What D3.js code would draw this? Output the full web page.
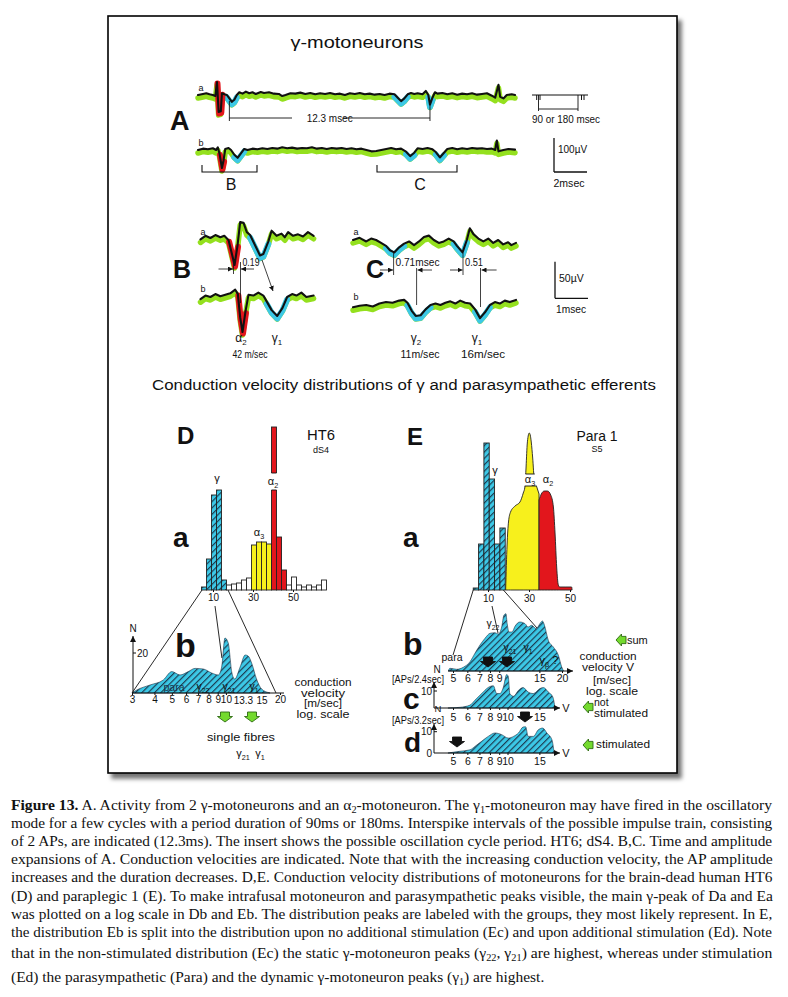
<!DOCTYPE html>
<html><head><meta charset="utf-8">
<script src="https://cdn.jsdelivr.net/npm/d3@7"></script>
<style>body{margin:0;background:#fff}svg{display:block}</style>
</head><body><svg id="c" width="788" height="997"></svg>
<script>
// ---------------- DATA ----------------
// Panel A traces (time in msec, amplitude in µV)
const aaT=[0,0.3,0.5,0.7,0.9,1.05,1.15,1.25,1.38,1.45,1.6,1.75,1.9,2.05,2.2,2.35,2.5,2.7,2.9,3.1,3.3,3.5,3.8,4.0,4.3,4.6,4.9,5.1,5.3,5.6,5.9,6.2,6.5,6.8,7.1,7.4,7.7,8.0,8.3,8.6,8.9,9.2,9.5,9.8,10.1,10.4,10.7,11.0,11.3,11.6,11.9,12.1,12.3,12.5,12.7,12.9,13.1,13.3,13.6,13.8,13.95,14.05,14.2,14.35,14.5,14.8,15.1,15.4,15.7,16.0,16.3,16.6,16.9,17.2,17.5,17.8,18.0,18.2,18.3,18.5,18.7,19.0,19.2];
const aaV=[0,3,5,2,0,-3,38,-50,-48,5,2,0,-10,-20,-14,0,8,4,10,5,8,3,9,6,8,4,3,-3,0,5,4,7,3,6,2,5,3,6,2,4,0,5,3,6,2,4,1,3,0,4,2,-8,-18,-10,2,6,3,5,2,12,0,-28,-8,8,4,6,2,5,1,4,2,5,1,3,5,-2,-8,30,-5,-10,0,2,0];
const aaCyan=[[1.75,2.4],[11.9,12.7],[13.9,14.3]];
const aaRed=[[1.15,1.45]];
const abT=[0,0.3,0.6,0.9,1.1,1.2,1.3,1.45,1.55,1.65,1.85,2.0,2.2,2.4,2.6,2.8,3.0,3.3,3.6,3.9,4.2,4.5,4.8,5.1,5.4,5.7,6.0,6.3,6.6,6.9,7.2,7.5,7.8,8.1,8.4,8.7,9.0,9.3,9.6,9.9,10.2,10.5,10.8,11.1,11.4,11.7,12.0,12.3,12.6,12.85,13.1,13.3,13.6,13.9,14.2,14.4,14.65,14.9,15.1,15.4,15.7,16.0,16.3,16.6,16.9,17.2,17.5,17.8,18.0,18.1,18.2,18.5,18.8,19.2];
const abV=[0,4,2,5,0,8,-10,-53,-30,3,6,0,-14,-23,-10,3,0,4,2,5,3,6,4,8,5,7,4,6,5,8,4,6,3,6,4,6,3,5,2,4,0,-4,-3,0,3,6,2,4,-5,-18,-8,5,3,6,2,-6,-22,-8,3,6,2,5,3,6,4,5,3,4,0,28,-4,0,3,1];
const abCyan=[[2.05,2.8],[12.5,13.2],[14.3,15.0]];
const abRed=[[1.3,1.6]];
// Panel B traces
const baT=[0,0.15,0.3,0.45,0.6,0.72,0.85,0.93,1.03,1.12,1.2,1.3,1.4,1.5,1.65,1.8,1.9,2.05,2.15,2.3,2.45,2.55,2.65,2.8,2.95,3.1,3.25,3.42];
const baV=[-2,3,0,4,1,3,-3,-18,-37,-10,22,21,8,4,-10,-24,-22,-5,10,3,6,1,8,3,5,2,8,3];
const baCyan=[[1.5,2.1]], baRed=[[0.85,1.15]];
const bbT=[0,0.15,0.3,0.45,0.6,0.75,0.9,1.05,1.13,1.2,1.27,1.36,1.45,1.6,1.75,1.9,2.0,2.15,2.32,2.48,2.62,2.77,2.9,3.05,3.2,3.42];
const bbV=[-3,2,0,4,1,3,5,10,4,-28,-48,-20,3,2,6,2,-6,-18,-26,-15,0,4,2,6,0,2];
const bbCyan=[[1.95,2.65]], bbRed=[[1.13,1.42]];
// Panel C traces
const caT=[0,0.2,0.4,0.55,0.7,0.85,1.0,1.12,1.25,1.4,1.55,1.7,1.85,2.0,2.15,2.3,2.45,2.6,2.75,2.9,3.05,3.15,3.32,3.45,3.54,3.65,3.8,3.95,4.1,4.25,4.4,4.55,4.7,4.8,4.94];
const caV=[0,3,-2,2,0,-4,-8,-14,-17,-10,-5,-2,-7,-2,4,6,0,-4,-2,2,-2,-8,-17,0,16,8,2,-2,2,-4,0,-6,-3,-7,-4];
const caCyan=[[0.9,1.6],[3.05,3.45]];
const cbT=[0,0.2,0.4,0.6,0.8,1.0,1.2,1.4,1.55,1.65,1.78,1.9,2.05,2.2,2.35,2.5,2.65,2.8,2.95,3.1,3.25,3.4,3.55,3.7,3.85,4.0,4.15,4.3,4.45,4.6,4.75,4.94];
const cbV=[-3,-1,0,-2,2,4,3,6,7,3,-8,-15,-14,-6,0,2,0,3,5,2,6,3,2,-6,-18,-10,0,4,2,6,4,7];
const cbCyan=[[1.6,2.4],[3.6,4.15]];

// Panel D a: histogram (bin start 4.25 m/s, width 2.5 m/s)
const daStart=4.25, daWidth=2.5;
const daCounts=[3,31,95,100,10,5,6,7,10,12,45,48,48,46,163,53,20,5,13,5,3,5,3,5,10];
const daGroup=['g','g','g','g','g','','','','','','a3','a3','a3','a3','a2','a2','a2','','','','','','','',''];
const daTicks=[10,30,50];
// Panel D b: log-scale distribution
const dbV=[3.0,3.19,3.78,4.48,5.0,5.55,6.17,6.73,7.48,8.33,9.07,9.47,9.88,10.3,10.8,11.2,12.0,12.8,13.3,13.9,14.8,15.8,17.6];
const dbN=[0,1.5,4,6.5,10.7,9,10.7,12.3,12,10,9,13,27.5,25,10,7,13,19,18.5,15,7,2,0];
const dbTicks=[3,4,5,6,7,8,9,10,13.3,15,20];
// Panel E a
const eaStart=2.8, eaWidth=2.6;
const eaCounts=[2,46,147,111,46,62];
const eaYellowV=[18.6,19.3,20.0,21.0,23.2,25.6,27.2,28.0,28.5,29.1,29.6,30.1,30.6,31.1,31.8,32.6,33.8,34.9];
const eaYellowN=[0,45,68,78,84,88,97,103,120,145,154,157,155,148,132,110,103,96];
const eaRedV=[34.9,36,37.5,39,40.6,41.9,42.7,43.5,44.3,45,48,50.8,51];
const eaRedN=[90,96,99,99,95,83,57,23,5,3,3,3,0];
const eaTicks=[10,30,50];
// Panel E b, c, d
const ebV=[4.71,4.81,5.24,5.7,6.21,6.61,7.05,7.51,8.01,8.53,8.89,9.29,9.55,9.8,9.96,10.2,10.6,11.0,11.7,12.5,13.0,13.6,14.4,15.1,15.6,16.0,16.8,17.9,19.1,19.9,20.4];
const ebN=[0,2.7,1.7,3.7,9.3,17.7,26,32.7,37.7,38.3,37,44,55.7,57.3,47.3,39,39,44.7,49,47.3,44,45.7,42.3,47.3,50,45.7,30.7,24,15.7,4.3,0];
const ebTicks=[5,6,7,8,9,15,20];
const ecV=[4.69,5.46,6.21,6.61,7.2,7.83,8.35,8.72,9.09,9.48,9.9,10.1,10.3,10.8,11.5,12.2,13.0,13.9,15.1,15.8,16.8,17.8,18.3];
const ecN=[0,0.4,1.7,4.6,8.5,12.1,13.1,8.5,8.5,12.1,19.7,18.5,8.5,6.9,10.4,12.0,9.4,8.5,11.4,12.0,9.4,6.5,0];
const edV=[4.69,5.46,6.21,6.61,7.2,7.83,8.53,9.29,10.1,10.8,11.5,12.2,12.6,13.0,13.9,14.8,15.65,16.5,17.6,18.1];
const edN=[0,0.8,1.5,3.1,5.5,7.8,9.4,8.6,7.0,7.8,9.4,12.2,12.3,7.8,7.8,10.9,11.7,9.4,6.2,0];
const ecTicks=[5,6,7,8,9,10,15];

const captionLines=[
"**Figure 13.** A. Activity from 2 γ-motoneurons and an α_{2}-motoneuron. The γ_{1}-motoneuron may have fired in the oscillatory",
"mode for a few cycles with a period duration of 90ms or 180ms. Interspike intervals of the possible impulse train, consisting",
"of 2 APs, are indicated (12.3ms). The insert shows the possible oscillation cycle period. HT6; dS4. B,C. Time and amplitude",
"expansions of A. Conduction velocities are indicated. Note that with the increasing conduction velocity, the AP amplitude",
"increases and the duration decreases. D,E. Conduction velocity distributions of motoneurons for the brain-dead human HT6",
"(D) and paraplegic 1 (E). To make intrafusal motoneuron and parasympathetic peaks visible, the main γ-peak of Da and Ea",
"was plotted on a log scale in Db and Eb. The distribution peaks are labeled with the groups, they most likely represent. In E,",
"the distribution Eb is split into the distribution upon no additional stimulation (Ec) and upon additional stimulation (Ed). Note",
"that in the non-stimulated distribution (Ec) the static γ-motoneuron peaks (γ_{22}, γ_{21}) are highest, whereas under stimulation",
"(Ed) the parasympathetic (Para) and the dynamic γ-motoneuron peaks (γ_{1}) are highest."];

// ---------------- DRAWING ----------------
const CYAN='#3cc8e6', GREEN='#94e01e', RED='#e2161c', YELLOW='#f7f01c', HATCH='#1a3347', ARRG='#74da2e';
const FONT='Liberation Sans, Arial, sans-serif';
const svg=d3.select('#c');
svg.append('rect').attr('width',788).attr('height',997).attr('fill','#fff');
const defs=svg.append('defs');
const pat=defs.append('pattern').attr('id','hatch').attr('patternUnits','userSpaceOnUse').attr('width',4.5).attr('height',4.5).attr('patternTransform','rotate(45)');
pat.append('rect').attr('width',4.5).attr('height',4.5).attr('fill',CYAN);
pat.append('line').attr('x1',0.6).attr('y1',0).attr('x2',0.6).attr('y2',4.5).attr('stroke',HATCH).attr('stroke-width',1.1);
const flt=defs.append('filter').attr('id','shadow').attr('x','-5%').attr('y','-5%').attr('width','112%').attr('height','112%');
flt.append('feDropShadow').attr('dx',4).attr('dy',5).attr('stdDeviation',2.2).attr('flood-color','#000').attr('flood-opacity',0.55);
function marker(id,s){
  defs.append('marker').attr('id',id).attr('markerUnits','userSpaceOnUse').attr('markerWidth',s).attr('markerHeight',s)
   .attr('refX',s).attr('refY',s/2).attr('orient','auto')
   .append('path').attr('d',`M0,0L${s},${s/2}L0,${s}Z`).attr('fill','#111');
}
marker('ah',6); marker('ah2',5);

svg.append('rect').attr('x',108).attr('y',16).attr('width',569).attr('height',757)
  .attr('fill','#fff').attr('stroke','#000').attr('stroke-width',1.6).attr('filter','url(#shadow)');

function rich(t,str,fs,shf=0.28){
  const parts=str.split(/(\*\*[^*]+\*\*|_\{[^}]*\})/).filter(s=>s.length);
  let down=0; const sh=fs*shf;
  parts.forEach(p=>{
    const ts=t.append('tspan');
    if(p.startsWith('_{')){ts.text(p.slice(2,-1)).attr('font-size',fs*0.66).attr('dy',sh-down);down=sh;}
    else{ if(p.startsWith('**')){ts.attr('font-weight','bold');p=p.slice(2,-2);} ts.text(p).attr('dy',-down);down=0;}
  });
  return t;
}
function txt(x,y,str,fs,opt={}){
  const t=svg.append('text').attr('x',x).attr('y',y).attr('font-family',opt.family||FONT).attr('font-size',fs)
    .attr('text-anchor',opt.anchor||'middle').attr('fill',opt.fill||'#111');
  if(opt.bold)t.attr('font-weight','bold');
  if(opt.len)t.attr('textLength',opt.len).attr('lengthAdjust','spacingAndGlyphs');
  rich(t,str,fs); return t;
}
function seg(x1,y1,x2,y2,w=1,m){
  const l=svg.append('line').attr('x1',x1).attr('y1',y1).attr('x2',x2).attr('y2',y2).attr('stroke','#111').attr('stroke-width',w);
  if(m)l.attr('marker-end',`url(#${m})`); return l;
}
function drawTrace(T,V,cyan,red,xr,base,ky){
  const x=d3.scaleLinear().domain([0,d3.max(T)]).range(xr);
  const y=d3.scaleLinear().domain([0,100]).range([base,base-100*ky]);
  const pts=T.map((d,i)=>[d,V[i]]);
  const line=d3.line().x(d=>x(d[0])).y(d=>y(d[1]));
  const g=svg.append('g').attr('fill','none').attr('stroke-linejoin','round').attr('stroke-linecap','round');
  g.append('path').attr('d',line(pts)).attr('stroke',GREEN).attr('stroke-width',5.5).attr('transform','translate(0,3)');
  const pick=r=>pts.filter(d=>d[0]>=r[0]-1e-9&&d[0]<=r[1]+1e-9);
  cyan.forEach(r=>g.append('path').attr('d',line(pick(r))).attr('stroke',CYAN).attr('stroke-width',6).attr('transform','translate(0,2.5)'));
  red.forEach(r=>g.append('path').attr('d',line(pick(r))).attr('stroke',RED).attr('stroke-width',6).attr('transform','translate(0.5,1.5)'));
  g.append('path').attr('d',line(pts)).attr('stroke','#111').attr('stroke-width',2.1);
  return {x,y,pxPerMs:(xr[1]-xr[0])/d3.max(T),ky};
}
function blockArrow(cx,cy,w,h,rot,fill,stroke){
  const p=`M${-w*0.3},${-h/2}H${w*0.3}V${-h*0.05}H${w/2}L0,${h/2}L${-w/2},${-h*0.05}H${-w*0.3}Z`;
  svg.append('path').attr('d',p).attr('transform',`translate(${cx},${cy}) rotate(${rot})`).attr('fill',fill).attr('stroke',stroke).attr('stroke-width',0.9);
}
function axisB(scale,y,ticks,fs,pad){
  const ax=d3.axisBottom(scale).tickValues(ticks).tickFormat(d=>String(d)).tickSize(2).tickPadding(pad);
  const g=svg.append('g').attr('transform',`translate(0,${y})`).call(ax);
  g.select('.domain').remove();
  g.selectAll('text').attr('font-size',fs).attr('font-family',FONT).attr('fill','#111');
  g.selectAll('line').attr('stroke','#111');
  return g;
}

// ---- Title
txt(357,48,'γ-motoneurons',17,{len:133});

// ---- Panel A
txt(170,130,'A',27,{bold:true,anchor:'start'});
const TA=drawTrace(aaT,aaV,aaCyan,aaRed,[198,515],95,0.34);
const TB=drawTrace(abT,abV,abCyan,abRed,[198,515],150,0.34);
txt(201,91,'a',9); txt(201,146,'b',9);
{const x1=TA.x(1.9),x2=TA.x(14.05);
 seg(x1,101,x1,121,0.9); seg(x2,101,x2,121,0.9);
 seg(x1,118,292,118,0.9); seg(343,118,x2,118,0.9);
 txt((x1+x2)/2,122,'12.3 msec',10,{len:46});}
seg(532,95,588,95,1); seg(536.7,95,536.7,100,1); seg(540,95,540,100,1);
seg(538.5,95,538.5,111,0.9); seg(578,95,578,111,0.9); seg(581.5,95,581.5,100,1); seg(584,95,584,100,1);
seg(539,109,578,109,0.9);
txt(566,123,'90 or 180 msec',10,{len:68});
function bracket(x1,x2,y){svg.append('path').attr('d',`M${x1},${y-7}V${y}H${x2}V${y-7}`).attr('fill','none').attr('stroke','#111').attr('stroke-width',1.1);}
bracket(202,257,172); bracket(377,457,172);
txt(231,190,'B',16); txt(420,190,'C',16);
{const x0=554,y0=172;
 seg(x0,y0,x0,y0-100*TA.ky,1.3); seg(x0,y0,x0+2*TA.pxPerMs,y0,1.3);
 txt(558,153,'100µV',10,{anchor:'start'}); txt(569,187,'2msec',10,{len:31});}

// ---- Panel B
txt(173,278,'B',25,{bold:true,anchor:'start'});
const TBa=drawTrace(baT,baV,baCyan,baRed,[200.5,313.6],238,0.73);
const TBb=drawTrace(bbT,bbV,bbCyan,bbRed,[200.5,313.6],297,0.73);
txt(203,235,'a',9); txt(203,292,'b',9);
seg(233.5,262,233.5,274,0.8); seg(240.5,262,240.5,303,0.8);
seg(218.5,269,233,269,0.8,'ah2'); seg(254,269,241,269,0.8,'ah2');
txt(242.5,266,'0.19',10.5,{len:17,anchor:'start'});
seg(262,260,273,291,0.8,'ah2');
txt(241,342,'α_{2}',12); txt(250,358,'42 m/sec',11,{len:35}); txt(277,342,'γ_{1}',12);

// ---- Panel C
txt(366,278,'C',25,{bold:true,anchor:'start'});
const TCa=drawTrace(caT,caV,caCyan,[],[353,516],240,0.73);
const TCb=drawTrace(cbT,cbV,cbCyan,[],[353,516],305,0.73);
txt(356,235,'a',9); txt(356,300,'b',9);
seg(393.6,253,393.6,275,0.8); seg(416.6,268,416.6,305,0.8);
seg(463,253,463,275,0.8); seg(480.5,268,480.5,307,0.8);
seg(380,270,393,270,0.8,'ah2'); seg(432,270,417.5,270,0.8,'ah2');
seg(450,270,462.5,270,0.8,'ah2'); seg(496.6,270,481.5,270,0.8,'ah2');
txt(395.5,266,'0.71msec',10.5,{len:44,anchor:'start'}); txt(465,266,'0.51',10.5,{len:18,anchor:'start'});
txt(416,342,'γ_{2}',12); txt(420,358,'11m/sec',11,{len:39});
txt(477,342,'γ_{1}',12); txt(483,358,'16m/sec',11,{len:44});
{const x0=555,y0=298.3;
 seg(x0,y0,x0,y0-50*TCa.ky,1.3); seg(x0,y0,x0+TCa.pxPerMs,y0,1.3);
 txt(559,282,'50µV',10.5,{anchor:'start'}); txt(571,313,'1msec',10,{len:30});}

txt(404,390,'Conduction velocity distributions of γ and parasympathetic efferents',14,{len:504});

// ---- Panel D
txt(177,444,'D',24,{bold:true,anchor:'start'});
txt(321,440,'HT6',14,{len:28}); txt(321,453,'dS4',9);
txt(173,547,'a',28,{bold:true,anchor:'start'});
const xDa=d3.scaleLinear().domain([0,70]).range([193,333]);
const yDa=d3.scaleLinear().domain([0,170]).range([590,420]);
const fillOf={g:'url(#hatch)',a3:YELLOW,a2:RED,'':'#fff'};
svg.append('g').selectAll('rect').data(daCounts).join('rect')
  .attr('x',(d,i)=>xDa(daStart+i*daWidth)).attr('width',xDa(daWidth)-xDa(0))
  .attr('y',d=>yDa(d)).attr('height',d=>yDa(0)-yDa(d))
  .attr('fill',(d,i)=>fillOf[daGroup[i]]).attr('stroke','#222').attr('stroke-width',0.9);
{const i=daGroup.indexOf('a2'); const x1=xDa(daStart+i*daWidth), x2=xDa(daStart+(i+1)*daWidth);
 svg.append('rect').attr('x',x1-1).attr('y',yDa(117)).attr('width',x2-x1+2).attr('height',yDa(100)-yDa(117)).attr('fill','#fff');
 seg(x1,yDa(117),x2,yDa(117),0.9); seg(x1,yDa(100),x2,yDa(100),0.9);}
txt(217,482,'γ',11); txt(273,485,'α_{2}',11); txt(259,536,'α_{3}',11);
axisB(xDa,590,daTicks,10,2);
// Db
const xDb=d3.scaleLog().domain([3,20]).range([132,280]);
const yDb=d3.scaleLinear().domain([0,30]).range([693,633]);
seg(202,590,xDb(3),693,0.9); seg(228,590,xDb(19),693,0.9); seg(215,606,xDb(9.5),658,0.9);
svg.append('path').datum(dbV.map((v,i)=>[v,dbN[i]]))
  .attr('d',d3.area().x(d=>xDb(d[0])).y0(yDb(0)).y1(d=>yDb(d[1])).curve(d3.curveMonotoneX))
  .attr('fill','url(#hatch)').attr('stroke',HATCH).attr('stroke-width',0.6);
seg(xDb(3),693,xDb(20)+4,693,1);
seg(133,693,133,636,1,'ah');
seg(133,yDb(20),136,yDb(20),1); txt(137,657,'20',10,{anchor:'start'}); txt(133,632,'N',10);
axisB(xDb,693,dbTicks.filter(d=>d!==13.3&&d!==15),10,1);
txt(xDb(13.3)+5,704,'13.3',10,{anchor:'end'}); txt(xDb(15)-1,704,'15',10,{anchor:'start'});
txt(175,657,'b',34,{bold:true,anchor:'start'});
txt(174,691,'para',10.5,{fill:HATCH}); txt(203,690,'γ_{22}',10.5); txt(229,690,'γ_{21}',10.5); txt(254,690,'γ_{1}',10.5);
txt(323,686,'conduction',10.5,{len:57}); txt(323,697,'velocity',10.5,{len:44}); txt(323,707,'[m/sec]',10,{len:38}); txt(323,718,'log. scale',10.5,{len:53});
blockArrow(225,717,15,10,0,ARRG,'#2e6a12'); blockArrow(252,717,15,10,0,ARRG,'#2e6a12');
txt(241,741,'single fibres',11,{len:68}); txt(243,757,'γ_{21}',11); txt(260,757,'γ_{1}',11);

// ---- Panel E
txt(407,445,'E',24,{bold:true,anchor:'start'});
txt(597,441,'Para 1',14,{len:41}); txt(597,452,'S5',9);
txt(403,547,'a',28,{bold:true,anchor:'start'});
const xEa=d3.scaleLinear().domain([0,60]).range([467.5,590.5]);
const yEa=d3.scaleLinear().domain([0,170]).range([590,420]);
svg.append('g').selectAll('rect').data(eaCounts).join('rect')
  .attr('x',(d,i)=>xEa(eaStart+i*eaWidth)).attr('width',xEa(eaWidth)-xEa(0))
  .attr('y',d=>yEa(d)).attr('height',d=>yEa(0)-yEa(d))
  .attr('fill','url(#hatch)').attr('stroke','#222').attr('stroke-width',0.9);
const areaA=d3.area().x(d=>xEa(d[0])).y0(yEa(0)).y1(d=>yEa(d[1])).curve(d3.curveMonotoneX);
svg.append('path').datum(eaYellowV.map((v,i)=>[v,eaYellowN[i]])).attr('d',areaA).attr('fill',YELLOW).attr('stroke','#222').attr('stroke-width',0.9);
svg.append('path').datum(eaRedV.map((v,i)=>[v,eaRedN[i]])).attr('d',areaA).attr('fill',RED).attr('stroke','#222').attr('stroke-width',0.9);
svg.append('rect').attr('x',xEa(27.4)).attr('y',yEa(116)).attr('width',xEa(34.6)-xEa(27.4)).attr('height',yEa(104)-yEa(116)).attr('fill','#fff');
seg(xEa(28.3),yEa(116),xEa(32.8),yEa(116),0.9); seg(xEa(27.9),yEa(104),xEa(33.8),yEa(104),0.9);
txt(495,474,'γ',11); txt(530,483,'α_{3}',11); txt(548,483,'α_{2}',11);
axisB(xEa,590,eaTicks,10,3);
// Eb
const xEb=d3.scaleLog().domain([5,20]).range([453,562]);
const yEb=d3.scaleLinear().domain([0,60]).range([671,611]);
seg(xEa(2.8),590,453,655,0.9); seg(xEa(17.5),590,537,628,0.9); seg(492,606,498,633,0.9);
const hatchArea=(V,N,ys)=>svg.append('path').datum(V.map((v,i)=>[v,N[i]]))
  .attr('d',d3.area().x(d=>xEb(d[0])).y0(ys(0)).y1(d=>ys(d[1])).curve(d3.curveMonotoneX))
  .attr('fill','url(#hatch)').attr('stroke',HATCH).attr('stroke-width',0.6);
hatchArea(ebV,ebN,yEb);
seg(448,671,573,671,1,'ah');
axisB(xEb,671,ebTicks,10.5,2);
txt(403,655,'b',32,{bold:true,anchor:'start'});
txt(452,661,'para',10.5); txt(493,627,'γ_{22}',10.5); txt(510,651,'γ_{21}',10.5); txt(528,651,'γ_{1}',10.5); txt(549,664,'γ_{β} ?',11);
blockArrow(488,662,15,10,0,'#111','#111'); blockArrow(507,662,15,10,0,'#111','#111');
txt(437,673,'N',10); txt(418,683,'[APs/2.4sec]',10,{len:52});
blockArrow(621,640,12,10,90,ARRG,'#2e6a12'); txt(627,644,'sum',11,{anchor:'start'});
txt(608,660,'conduction',10.5,{len:57}); txt(608,671,'velocity V',10.5,{len:52});
txt(612,684,'[m/sec]',10.5,{len:38}); txt(612,695,'log. scale',10.5,{len:52});
// Ec
const yEc=d3.scaleLinear().domain([0,10]).range([708,691]);
hatchArea(ecV,ecN,yEc);
seg(434,708,560,708,1,'ah'); seg(434,708,434,682,1,'ah');
seg(434,yEc(10),437,yEc(10),1); txt(432,695,'10',10,{anchor:'end'});
txt(566,712,'V',11);
axisB(xEb,708,ecTicks,10.5,3.5);
txt(403,709,'c',30,{bold:true,anchor:'start'});
txt(438,712,'N',9.5); txt(418,724,'[APs/3.2sec]',10,{len:52});
blockArrow(588,707,12,10,90,ARRG,'#2e6a12'); txt(594,706,'not',10.5,{anchor:'start'}); txt(594,717,'stimulated',10.5,{anchor:'start',len:54});
// Ed
const yEd=d3.scaleLinear().domain([0,10]).range([753,731.7]);
hatchArea(edV,edN,yEd);
seg(434,753,560,753,1,'ah'); seg(434,753,434,724,1,'ah');
seg(434,yEd(10),437,yEd(10),1); txt(432,735,'10',10,{anchor:'end'}); txt(432,757,'0',10,{anchor:'end'});
txt(566,757,'V',11);
axisB(xEb,753,ecTicks,10.5,3);
txt(404,752,'d',28,{bold:true,anchor:'start'});
blockArrow(457,742,15,10,0,'#111','#111'); blockArrow(525,717,15,10,0,'#111','#111');
blockArrow(588,745,12,10,90,ARRG,'#2e6a12'); txt(596,748,'stimulated',11,{anchor:'start',len:54});

// ---- Caption
const capY=[810,828,846,864,882,901,919,937,958,982];
const CAPFS=15.5, CAPW=762, CAPX=11;
const capNodes=captionLines.map((s,i)=>{
  const g=svg.append('g').attr('transform',`translate(${CAPX},${capY[i]})`);
  const t=g.append('text').attr('x',0).attr('y',0).attr('font-family','Liberation Serif, Times New Roman, serif').attr('font-size',CAPFS).attr('fill','#111');
  rich(t,s,CAPFS,0.18); return {g,t};
});
const widths=capNodes.map(n=>n.t.node().getComputedTextLength());
const facs=widths.slice(0,-1).map(w=>CAPW/w);
const avg=d3.mean(facs);
capNodes.forEach((n,i)=>{
  const f=i<capNodes.length-1?facs[i]:avg;
  n.t.attr('transform',`scale(${f},1)`);
});
</script></body></html>
